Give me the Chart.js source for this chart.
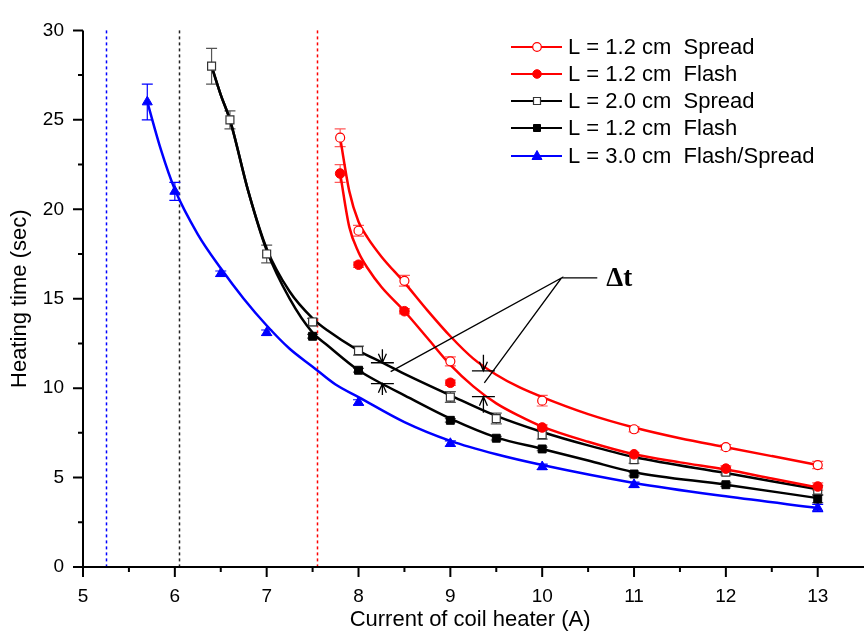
<!DOCTYPE html>
<html><head><meta charset="utf-8">
<script src="https://cdn.jsdelivr.net/npm/chart.js@4.4.1/dist/chart.umd.min.js"></script>
<style>html,body{margin:0;padding:0;background:#fff;overflow:hidden}</style>
</head><body>
<canvas id="c" width="864" height="636" style="width:864px;height:636px;display:block"></canvas>
<script>
// ---------- measured points ----------
const redSpreadX = [7.8, 8.0, 8.5, 9.0, 10, 11, 12, 13];
const redSpreadY = [24.0, 18.8, 16.0, 11.5, 9.3, 7.7, 6.7, 5.7];
const redSpreadErr = [0.5, 0.3, 0.3, 0.25, 0.3, 0.15, 0.15, 0.2];

const redFlashX = [7.8, 8.0, 8.5, 9.0, 10, 11, 12, 13];
const redFlashY = [22.0, 16.9, 14.3, 10.3, 7.8, 6.3, 5.5, 4.5];
const redFlashErr = [0.5, 0.15, 0.15, 0.15, 0.15, 0.1, 0.15, 0.2];

const blackSpreadX = [6.4, 6.6, 7.0, 7.5, 8.0, 9.0, 9.5, 10, 11, 12, 13];
const blackSpreadY = [28.0, 25.0, 17.5, 13.7, 12.1, 9.5, 8.3, 7.4, 6.0, 5.3, 4.3];
const blackSpreadErr = [1.0, 0.5, 0.5, 0.2, 0.25, 0.3, 0.3, 0.25, 0.2, 0.15, 0.25];

const blackFlashX = [7.5, 8.0, 9.0, 9.5, 10, 11, 12, 13];
const blackFlashY = [12.9, 11.0, 8.2, 7.2, 6.6, 5.2, 4.6, 3.8];
const blackFlashErr = [0.1, 0.1, 0.1, 0.1, 0.1, 0.1, 0.1, 0.2];

const blueX = [5.7, 6.0, 6.5, 7.0, 8.0, 9.0, 10, 11, 13];
const blueY = [26.0, 21.0, 16.4, 13.1, 9.2, 6.9, 5.6, 4.6, 3.3];
const blueErr = [1.0, 0.5, 0.15, 0.15, 0.15, 0.15, 0.15, 0.15, 0.2];

// ---------- fitted curves ----------
const redSpreadFitX = [7.8, 7.9, 8.0, 8.1, 8.25, 8.5, 8.75, 9.0, 9.25, 9.5, 9.75, 10, 10.5, 11, 11.5, 12, 12.5, 13];
const redSpreadFitY = [24.0, 21.0, 19.3, 18.4, 17.35, 15.9, 14.35, 12.9, 11.65, 10.75, 10.05, 9.5, 8.55, 7.8, 7.2, 6.7, 6.2, 5.7];

const redFlashFitX = [7.8, 7.9, 8.0, 8.1, 8.25, 8.5, 8.75, 9.0, 9.25, 9.5, 9.75, 10, 10.5, 11, 11.5, 12, 12.5, 13];
const redFlashFitY = [22.0, 19.0, 17.6, 16.7, 15.65, 14.3, 12.8, 11.3, 10.1, 9.15, 8.45, 7.85, 7.0, 6.3, 5.85, 5.45, 4.95, 4.45];

const blackSpreadFitX = [6.4, 6.5, 6.6, 6.8, 7.0, 7.25, 7.5, 7.66, 8.0, 8.26, 8.5, 9.0, 9.5, 10, 10.5, 11, 12, 13];
const blackSpreadFitY = [28.0, 26.4, 25.0, 21.0, 17.8, 15.4, 13.9, 13.23, 12.1, 11.42, 10.8, 9.6, 8.45, 7.55, 6.8, 6.15, 5.25, 4.35];

const blackFlashFitX = [6.4, 6.5, 6.6, 6.8, 7.0, 7.25, 7.5, 7.66, 8.0, 8.26, 8.5, 9.0, 9.5, 10, 10.5, 11, 12, 13];
const blackFlashFitY = [28.0, 26.4, 25.0, 21.0, 17.7, 15.0, 13.1, 12.4, 11.0, 10.23, 9.6, 8.3, 7.25, 6.6, 5.95, 5.3, 4.6, 3.85];

const blueFitX = [5.7, 5.85, 6.0, 6.25, 6.5, 6.75, 7.0, 7.25, 7.5, 7.75, 8.0, 8.5, 9.0, 9.5, 10, 11, 12, 13];
const blueFitY = [26.0, 23.3, 21.1, 18.6, 16.7, 15.0, 13.5, 12.2, 11.2, 10.2, 9.5, 8.1, 7.05, 6.3, 5.7, 4.7, 3.95, 3.3];

// ---------- axes / labels ----------
const xTickValues = [5, 6, 7, 8, 9, 10, 11, 12, 13];
const yTickValues = [0, 5, 10, 15, 20, 25, 30];
const xMinorValues = [5.5, 6.5, 7.5, 8.5, 9.5, 10.5, 11.5, 12.5, 13.5];
const yMinorValues = [2.5, 7.5, 12.5, 17.5, 22.5, 27.5];
const xTitle = 'Current of coil heater (A)';
const yTitle = 'Heating time (sec)';
const seriesLabels = ['L = 1.2 cm  Spread', 'L = 1.2 cm  Flash', 'L = 2.0 cm  Spread', 'L = 1.2 cm  Flash', 'L = 3.0 cm  Flash/Spread'];

// threshold lines
const thresholdX = [5.25, 6.05, 7.55];

// Δt annotation (data units)
const dtLabel = 'Δt';
const dtLeaderX = [8.35, 10.21, 9.37];
const dtLeaderY = [10.92, 16.16, 10.3];
const dtShelfX = [10.21, 10.6];
const dtMarkX = [8.26, 9.36];
const dtUpperBar = [11.42, 10.97];
const dtUpperTail = [12.18, 11.87];
const dtLowerBar = [10.25, 9.52];
const dtLowerTail = [9.61, 8.62];
const dtBarHalf = 0.125;

// ---------- styles ----------
const RED = '#ff0000', BLUE = '#0000ff', BLACK = '#000000';
const FONT = "'Liberation Sans', Arial, sans-serif";
const thresholdColors = [BLUE, '#222222', RED];

function pts(xs, ys) { return xs.map((x, i) => ({ x: x, y: ys[i] })); }

const pointDatasets = [
  { label: seriesLabels[0], data: pts(redSpreadX, redSpreadY), errors: redSpreadErr, errColor: '#ff5a5a',
    pointStyle: 'circle', pointRadius: 4.5, backgroundColor: '#ffffff', borderColor: RED, pointBorderWidth: 1.2 },
  { label: seriesLabels[1], data: pts(redFlashX, redFlashY), errors: redFlashErr, errColor: '#ff5a5a',
    pointStyle: 'circle', pointRadius: 4.8, backgroundColor: RED, borderColor: RED, pointBorderWidth: 1 },
  { label: seriesLabels[2], data: pts(blackSpreadX, blackSpreadY), errors: blackSpreadErr, errColor: '#555555',
    pointStyle: 'rect', pointRadius: 5.6, backgroundColor: '#ffffff', borderColor: '#333333', pointBorderWidth: 1.2 },
  { label: seriesLabels[3], data: pts(blackFlashX, blackFlashY), errors: blackFlashErr, errColor: '#555555',
    pointStyle: 'rect', pointRadius: 5.6, backgroundColor: BLACK, borderColor: BLACK, pointBorderWidth: 1 },
  { label: seriesLabels[4], data: pts(blueX, blueY), errors: blueErr, errColor: BLUE,
    pointStyle: 'triangle', pointRadius: 5.8, backgroundColor: BLUE, borderColor: BLUE, pointBorderWidth: 1 }
].map(d => Object.assign(d, { showLine: false, order: 0, pointHoverRadius: d.pointRadius }));

const fitDatasets = [
  { label: 'fit1', data: pts(redSpreadFitX, redSpreadFitY), borderColor: RED },
  { label: 'fit2', data: pts(redFlashFitX, redFlashFitY), borderColor: RED },
  { label: 'fit3', data: pts(blackSpreadFitX, blackSpreadFitY), borderColor: BLACK },
  { label: 'fit4', data: pts(blackFlashFitX, blackFlashFitY), borderColor: BLACK },
  { label: 'fit5', data: pts(blueFitX, blueFitY), borderColor: BLUE }
].map(d => Object.assign(d, { showLine: true, pointRadius: 0, pointHoverRadius: 0, borderWidth: 2.5,
  cubicInterpolationMode: 'monotone', fill: false, order: 1, isFit: true }));

// ---------- plugins ----------
const backgroundPlugin = {
  id: 'bgAndGuides',
  beforeDatasetsDraw(chart) {
    const { ctx, scales: { x, y } } = chart;
    ctx.save();
    ctx.lineWidth = 1.5;
    ctx.setLineDash([3, 3]);
    thresholdX.forEach((v, i) => {
      const px = Math.round(x.getPixelForValue(v)) + 0.5;
      ctx.strokeStyle = thresholdColors[i];
      ctx.beginPath();
      ctx.moveTo(px, y.getPixelForValue(30));
      ctx.lineTo(px, y.getPixelForValue(0));
      ctx.stroke();
    });
    ctx.setLineDash([]);
    chart.data.datasets.forEach((ds) => {
      if (!ds.errors) return;
      ctx.strokeStyle = ds.errColor;
      ctx.lineWidth = 1.2;
      ds.data.forEach((p, i) => {
        const e = ds.errors[i];
        const px = x.getPixelForValue(p.x);
        const t = y.getPixelForValue(p.y + e);
        const b = y.getPixelForValue(p.y - e);
        const cap = 5.5;
        ctx.beginPath();
        ctx.moveTo(px, t); ctx.lineTo(px, b);
        ctx.moveTo(px - cap, t); ctx.lineTo(px + cap, t);
        ctx.moveTo(px - cap, b); ctx.lineTo(px + cap, b);
        ctx.stroke();
      });
    });
    ctx.restore();
  },
  afterDraw(chart) {
    const { ctx, chartArea, scales: { x, y } } = chart;
    ctx.save();
    ctx.strokeStyle = '#000';
    ctx.lineWidth = 2;
    const left = x.getPixelForValue(5);
    const bottom = y.getPixelForValue(0);
    ctx.beginPath();
    ctx.moveTo(left, y.getPixelForValue(30));
    ctx.lineTo(left, bottom);
    ctx.lineTo(864, bottom);
    ctx.stroke();
    ctx.beginPath();
    xTickValues.forEach(v => { const p = x.getPixelForValue(v); ctx.moveTo(p, bottom); ctx.lineTo(p, bottom + 10); });
    xMinorValues.forEach(v => { if (v > x.max) return; const p = x.getPixelForValue(v); ctx.moveTo(p, bottom); ctx.lineTo(p, bottom + 5); });
    yTickValues.forEach(v => { const p = y.getPixelForValue(v); ctx.moveTo(left, p); ctx.lineTo(left - 10, p); });
    yMinorValues.forEach(v => { const p = y.getPixelForValue(v); ctx.moveTo(left, p); ctx.lineTo(left - 5, p); });
    ctx.stroke();

    // Δt annotation
    ctx.strokeStyle = '#000';
    ctx.lineWidth = 1.3;
    ctx.beginPath();
    ctx.moveTo(x.getPixelForValue(dtLeaderX[0]), y.getPixelForValue(dtLeaderY[0]));
    ctx.lineTo(x.getPixelForValue(dtLeaderX[1]), y.getPixelForValue(dtLeaderY[1]));
    ctx.lineTo(x.getPixelForValue(dtLeaderX[2]), y.getPixelForValue(dtLeaderY[2]));
    ctx.moveTo(x.getPixelForValue(dtShelfX[0]), y.getPixelForValue(dtLeaderY[1]));
    ctx.lineTo(x.getPixelForValue(dtShelfX[1]), y.getPixelForValue(dtLeaderY[1]));
    ctx.stroke();
    dtMarkX.forEach((mx, i) => {
      const px = x.getPixelForValue(mx);
      const l = x.getPixelForValue(mx - dtBarHalf), r = x.getPixelForValue(mx + dtBarHalf);
      const ub = y.getPixelForValue(dtUpperBar[i]), ut = y.getPixelForValue(dtUpperTail[i]);
      const lb = y.getPixelForValue(dtLowerBar[i]), lt = y.getPixelForValue(dtLowerTail[i]);
      ctx.beginPath();
      ctx.moveTo(l, ub); ctx.lineTo(r, ub);
      ctx.moveTo(px, ut); ctx.lineTo(px, ub);
      ctx.moveTo(px - 4, ub - 9); ctx.lineTo(px, ub); ctx.lineTo(px + 4, ub - 9);
      ctx.moveTo(l, lb); ctx.lineTo(r, lb);
      ctx.moveTo(px, lt); ctx.lineTo(px, lb);
      ctx.moveTo(px - 4, lb + 9); ctx.lineTo(px, lb); ctx.lineTo(px + 4, lb + 9);
      ctx.stroke();
    });
    ctx.fillStyle = '#000';
    ctx.font = "bold 27px 'Liberation Serif', 'Times New Roman', serif";
    ctx.textAlign = 'left';
    ctx.textBaseline = 'middle';
    ctx.fillText(dtLabel, x.getPixelForValue(dtShelfX[1]) + 9, y.getPixelForValue(dtLeaderY[1]) + 1);

    // legend
    const lx0 = 511, lx1 = 562, mx = 537, tx = 568;
    const rowY = [47, 74, 101, 128, 156];
    ctx.font = '22px ' + FONT;
    ctx.textBaseline = 'middle';
    pointDatasets.forEach((ds, i) => {
      const yy = rowY[i];
      ctx.strokeStyle = ds.borderColor === '#333333' ? BLACK : ds.borderColor;
      ctx.lineWidth = 2;
      ctx.beginPath(); ctx.moveTo(lx0, yy); ctx.lineTo(lx1, yy); ctx.stroke();
      ctx.fillStyle = ds.backgroundColor;
      ctx.strokeStyle = ds.borderColor;
      ctx.lineWidth = ds.pointBorderWidth;
      ctx.beginPath();
      if (ds.pointStyle === 'circle') ctx.arc(mx, yy, 4.3, 0, Math.PI * 2);
      else if (ds.pointStyle === 'rect') ctx.rect(mx - 3.5, yy - 3.5, 7, 7);
      else { ctx.moveTo(mx, yy - 5.5); ctx.lineTo(mx + 5, yy + 3.5); ctx.lineTo(mx - 5, yy + 3.5); ctx.closePath(); }
      ctx.fill(); ctx.stroke();
      ctx.fillStyle = '#000';
      ctx.fillText(ds.label, tx, yy + 1);
    });
    ctx.restore();
  }
};

new Chart(document.getElementById('c'), {
  type: 'scatter',
  data: { datasets: pointDatasets.concat(fitDatasets) },
  plugins: [backgroundPlugin],
  options: {
    responsive: false,
    animation: false,
    devicePixelRatio: 1,
    layout: { padding: { top: 14, right: 0, left: 0, bottom: 0 } },
    plugins: { legend: { display: false }, tooltip: { enabled: false } },
    elements: { line: { tension: 0 } },
    scales: {
      x: {
        type: 'linear', min: 5, max: 13.43,
        afterBuildTicks: s => { s.ticks = xTickValues.map(v => ({ value: v })); },
        grid: { display: false, drawTicks: false },
        border: { display: false },
        ticks: { color: '#000', font: { size: 19, family: FONT }, padding: 18, maxRotation: 0, autoSkip: false,
          callback: v => String(v) },
        title: { display: true, text: xTitle, color: '#000', font: { size: 22, family: FONT }, padding: { top: 0, bottom: 3 } },
        afterFit: s => { s.height = 69; }
      },
      y: {
        type: 'linear', min: 0, max: 30,
        afterBuildTicks: s => { s.ticks = yTickValues.map(v => ({ value: v })); },
        grid: { display: false, drawTicks: false },
        border: { display: false },
        ticks: { color: '#000', font: { size: 19, family: FONT }, padding: 19, autoSkip: false,
          callback: v => String(v) },
        title: { display: true, text: yTitle, color: '#000', font: { size: 22, family: FONT }, padding: { top: 7, bottom: 0 } },
        afterFit: s => { s.width = 83; }
      }
    }
  }
});
</script>
</body></html>
